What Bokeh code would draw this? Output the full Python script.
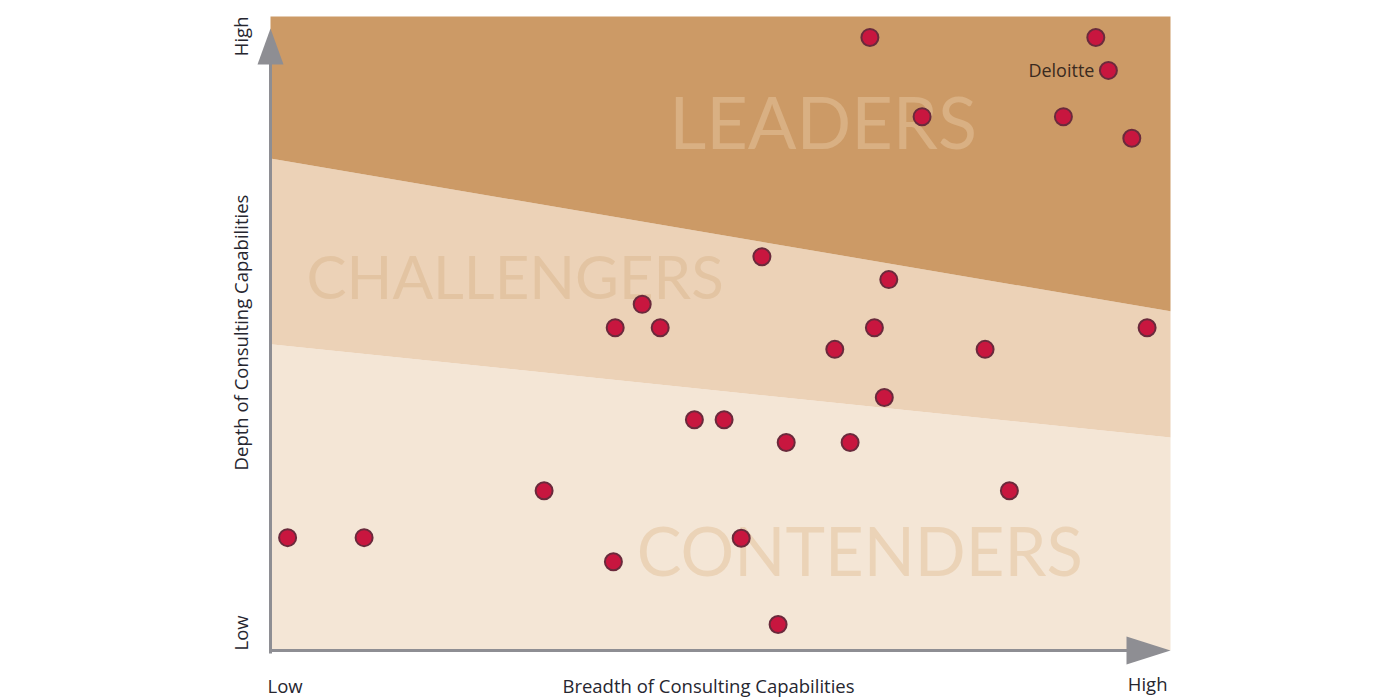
from bokeh.plotting import figure
from bokeh.models import Range1d
from bokeh.core.properties import value
from bokeh.embed import file_html
from bokeh.resources import INLINE

# ---- data (0-10 scale on both axes) ----
breadth = [6.66, 9.17, 9.31, 7.24, 8.81, 9.57, 5.46, 6.87, 4.13, 3.83, 4.33, 6.71, 9.74, 6.27,
           7.94, 6.82, 4.71, 5.04, 5.73, 6.44, 3.04, 8.21, 0.19, 1.04, 5.23, 3.81, 5.64]
depth = [9.67, 9.67, 9.15, 8.42, 8.42, 8.08, 6.21, 5.85, 5.46, 5.09, 5.09, 5.09, 5.09, 4.75,
         4.75, 3.99, 3.64, 3.64, 3.28, 3.28, 2.52, 2.52, 1.78, 1.78, 1.77, 1.40, 0.41]

# region boundaries: value at x=0 and x=10
upper_boundary = [7.76, 5.35]
lower_boundary = [4.83, 3.36]
region_names = ["LEADERS", "CHALLENGERS", "CONTENDERS"]
region_label_x = [4.43, 0.40, 4.07]
region_label_y = [8.35, 5.91, 1.58]

x_axis_labels = ["Low", "Breadth of Consulting Capabilities", "High"]
y_axis_labels = ["Low", "Depth of Consulting Capabilities", "High"]
highlight_name = "Deloitte"
highlight_index = 2

# ---- figure ----
px_per_x = 90.0
px_per_y = 63.4
x0_px, y0_px = 270, 650
W, H = 1400, 700

p = figure(width=W, height=H, output_backend="svg", toolbar_location=None,
           x_range=Range1d(-x0_px / px_per_x, (W - x0_px) / px_per_x),
           y_range=Range1d(-(H - y0_px) / px_per_y, y0_px / px_per_y),
           x_axis_type=None, y_axis_type=None, min_border=0)
p.outline_line_color = None
p.grid.visible = False
p.background_fill_color = "white"
p.border_fill_color = "white"

XMIN, XMAX, YMIN, YMAX = 0, 10, 0, 10

# regions
p.patch([XMIN, XMAX, XMAX, XMIN], [YMIN, YMIN, lower_boundary[1], lower_boundary[0]],
        fill_color="#F4E6D6", line_color=None)
p.patch([XMIN, XMAX, XMAX, XMIN], [lower_boundary[0], lower_boundary[1], upper_boundary[1], upper_boundary[0]],
        fill_color="#ECD2B7", line_color=None)
p.patch([XMIN, XMAX, XMAX, XMIN], [upper_boundary[0], upper_boundary[1], YMAX, YMAX],
        fill_color="#CC9A66", line_color=None)

# region labels
p.text(x=[region_label_x[0]], y=[region_label_y[0]], text=[region_names[0]],
       text_font=value("Lato"), text_font_size="72px", text_color="#D9B083",
       text_baseline="middle", text_align="left")
p.text(x=[region_label_x[1]], y=[region_label_y[1]], text=[region_names[1]],
       text_font=value("Lato"), text_font_size="60px", text_color="#E3C4A2",
       text_baseline="middle", text_align="left")
p.text(x=[region_label_x[2]], y=[region_label_y[2]], text=[region_names[2]],
       text_font=value("Lato"), text_font_size="67px", text_color="#EBD3B7",
       text_baseline="middle", text_align="left")

# axes lines
axis_col = "#8E8E93"
p.line([XMIN, XMIN], [YMIN - 3 / px_per_y, YMAX - 40 / px_per_y], line_color=axis_col, line_width=3)
p.line([XMIN, XMAX - 40 / px_per_x], [YMIN, YMIN], line_color=axis_col, line_width=3)
# arrow heads
tip_y = YMAX - 12 / px_per_y
p.patch([XMIN, XMIN - 13 / px_per_x, XMIN + 13 / px_per_x],
        [tip_y, tip_y - 36 / px_per_y, tip_y - 36 / px_per_y],
        fill_color=axis_col, line_color=None)
p.patch([XMAX, XMAX - 44 / px_per_x, XMAX - 44 / px_per_x],
        [YMIN, YMIN + 14 / px_per_y, YMIN - 14 / px_per_y],
        fill_color=axis_col, line_color=None)

# points
p.scatter(breadth, depth, size=17, fill_color="#C8163F", line_color="#6A2A3C", line_width=2)

# highlight label
p.text(x=[breadth[highlight_index] - 14 / px_per_x], y=[depth[highlight_index]], text=[highlight_name],
       text_font=value("Open Sans"), text_font_size="18px", text_color="#3A2A20",
       text_align="right", text_baseline="middle")

lab_font = value("Open Sans")
lab_col = "#26262F"
fs = "18.5px"
# x-axis labels
yb = -35 / px_per_y
p.text(x=[XMIN - 3 / px_per_x], y=[yb], text=[x_axis_labels[0]], text_font=lab_font,
       text_font_size=fs, text_color=lab_col, text_align="left", text_baseline="middle")
p.text(x=[(708 - x0_px) / px_per_x], y=[yb], text=[x_axis_labels[1]], text_font=lab_font,
       text_font_size=fs, text_color=lab_col, text_align="center", text_baseline="middle")
p.text(x=[XMAX - 3 / px_per_x], y=[yb + 2 / px_per_y], text=[x_axis_labels[2]], text_font=lab_font,
       text_font_size=fs, text_color=lab_col, text_align="right", text_baseline="middle")

# y-axis labels (rotated)
xl = -30 / px_per_x
p.text(x=[xl], y=[YMIN], text=[y_axis_labels[0]], text_font=lab_font, angle=1.5708,
       text_font_size=fs, text_color=lab_col, text_align="left", text_baseline="middle")
p.text(x=[xl], y=[(y0_px - 332) / px_per_y], text=[y_axis_labels[1]], text_font=lab_font, angle=1.5708,
       text_font_size=fs, text_color=lab_col, text_align="center", text_baseline="middle")
p.text(x=[xl], y=[YMAX + 0 / px_per_y], text=[y_axis_labels[2]], text_font=lab_font, angle=1.5708,
       text_font_size=fs, text_color=lab_col, text_align="right", text_baseline="middle")

open("out.html", "w").write(file_html(p, INLINE))
